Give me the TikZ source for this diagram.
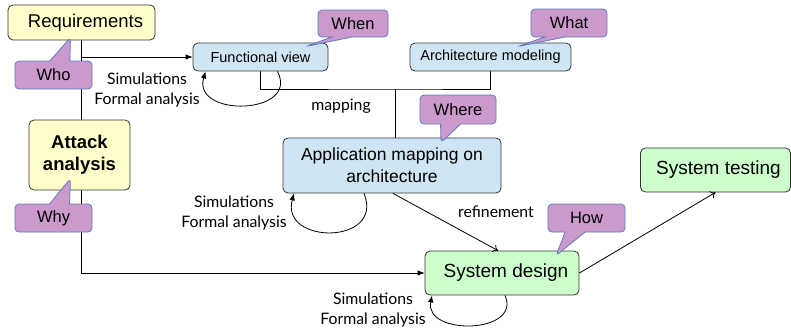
\documentclass[tikz,border=0pt]{standalone}
\usepackage{fontspec}
\setmainfont{Liberation Sans}
\newfontfamily\lblfont{Lato}
\usetikzlibrary{shapes.callouts,arrows.meta}
\pgfdeclarelayer{bg}
\pgfsetlayers{bg,main}
\definecolor{boxyellow}{HTML}{FFFFCC}
\definecolor{boxblue}{HTML}{CFE5F3}
\definecolor{boxgreen}{HTML}{CCFFCC}
\definecolor{callfill}{HTML}{CC99CC}
\definecolor{callline}{HTML}{5A7CC0}
\definecolor{edgecol}{HTML}{333333}
\tikzset{
  box/.style={draw=edgecol, line width=0.8pt, rounded corners=5pt, inner sep=0pt, align=center},
  yellowbox/.style={box, fill=boxyellow},
  bluebox/.style={box, fill=boxblue},
  greenbox/.style={box, fill=boxgreen},
  callbox/.style={rectangle callout, draw=callline, fill=callfill, line width=0.8pt,
    rounded corners=4pt, inner sep=0pt, callout pointer width=20pt,
    font=\fontsize{16.5}{18}\selectfont},
  conn/.style={draw=black, line width=0.8pt},
  filledtip/.style={-{Latex[length=7pt,width=5.5pt]}},
  opentip/.style={-{To[length=5pt,width=8pt]}},
  lbl/.style={font=\lblfont\fontsize{15.8}{20}\selectfont, align=center, inner sep=0pt},
}
\begin{document}
\begin{tikzpicture}[x=1pt,y=-1pt]
\useasboundingbox (0,0) rectangle (791,327);
% boxes
\node[yellowbox, minimum width=147pt, minimum height=35pt, font=\fontsize{18.5}{20}\selectfont] (req) at (81.5,22.5) {\hspace{8pt}Requirements};
\node[bluebox, minimum width=135pt, minimum height=28pt, font=\fontsize{14.5}{16}\selectfont] (fv) at (260.5,57) {Functional view};
\node[bluebox, minimum width=161pt, minimum height=28pt, font=\fontsize{14.5}{16}\selectfont] (am) at (490.5,57) {Architecture modeling};
\node[bluebox, minimum width=218pt, minimum height=55pt, font=\fontsize{17.5}{22}\selectfont] (app) at (392,165.5) {Application mapping on\\architecture};
\node[yellowbox, minimum width=101pt, minimum height=70pt, font=\bfseries\fontsize{18.5}{22}\selectfont] (atk) at (79.5,155) {Attack\\analysis};
\node[greenbox, minimum width=154pt, minimum height=44pt, font=\fontsize{19}{20}\selectfont] (sd) at (502,273) {\hspace{8pt}System design};
\node[greenbox, minimum width=150pt, minimum height=44pt, font=\fontsize{19}{20}\selectfont] (st) at (715.5,170) {\hspace{6pt}System testing};
% labels
\node[lbl] (sim1) at (147,90) {Simulations\\Formal analysis};
\node[lbl] (sim2) at (234,213) {Simulations\\Formal analysis};
\node[lbl] (sim3) at (373,310) {Simulations\\Formal analysis};
\node[lbl] (maplbl) at (341,106) {mapping};
\node[lbl] (reflbl) at (496,212) {refinement};
% connectors
\coordinate (mj) at (395,89);
\begin{pgfonlayer}{bg}
\draw[conn, filledtip] (req.south) |- (sd.west);
\draw[conn, filledtip] (req.south |- fv.west) -- (fv.west);
\draw[conn] (fv.south) |- (mj) -| (am.south);
\draw[conn] (mj) -- (mj |- app.north);
\end{pgfonlayer}
\draw[conn, opentip] ([xshift=1pt]app.south) -- ([xshift=-4pt]sd.north);
\draw[conn, opentip] (sd.east) -- (st.south);
\draw[conn, filledtip] ([xshift=17pt]fv.south) .. controls (300,115) and (192,118) .. ([xshift=-55pt]fv.south);
\draw[conn, filledtip] ([xshift=-28pt]app.south) .. controls (385,245) and (280,245) .. ([xshift=-98pt]app.south);
\draw[conn, filledtip] ([xshift=3pt]sd.south) .. controls (522,334) and (424,336) .. ([xshift=-70pt]sd.south);
% callouts
\node[callbox, minimum width=77pt, minimum height=28pt, callout absolute pointer={([xshift=-11pt,yshift=3pt]req.south)}] (who) at (53.5,75) {Who};
\node[callbox, minimum width=70pt, minimum height=27pt, callout absolute pointer={([xshift=45pt,yshift=-4pt]fv.north)}] (when) at (353,23.5) {When};
\node[callbox, minimum width=76pt, minimum height=28pt, callout absolute pointer={([xshift=27pt,yshift=-4pt]am.north)}] (what) at (569,23) {What};
\node[callbox, minimum width=76pt, minimum height=29pt, callout absolute pointer={([xshift=49pt,yshift=-5pt]app.north)}] (where) at (458,109.5) {Where};
\node[callbox, minimum width=77pt, minimum height=28pt, callout absolute pointer={([xshift=54pt,yshift=-5pt]sd.north)}] (how) at (586.5,218) {How};
\node[callbox, minimum width=77pt, minimum height=28pt, callout absolute pointer={([xshift=-9pt,yshift=12pt]atk.south)}] (why) at (53.5,218) {Why};
\end{tikzpicture}
\end{document}
